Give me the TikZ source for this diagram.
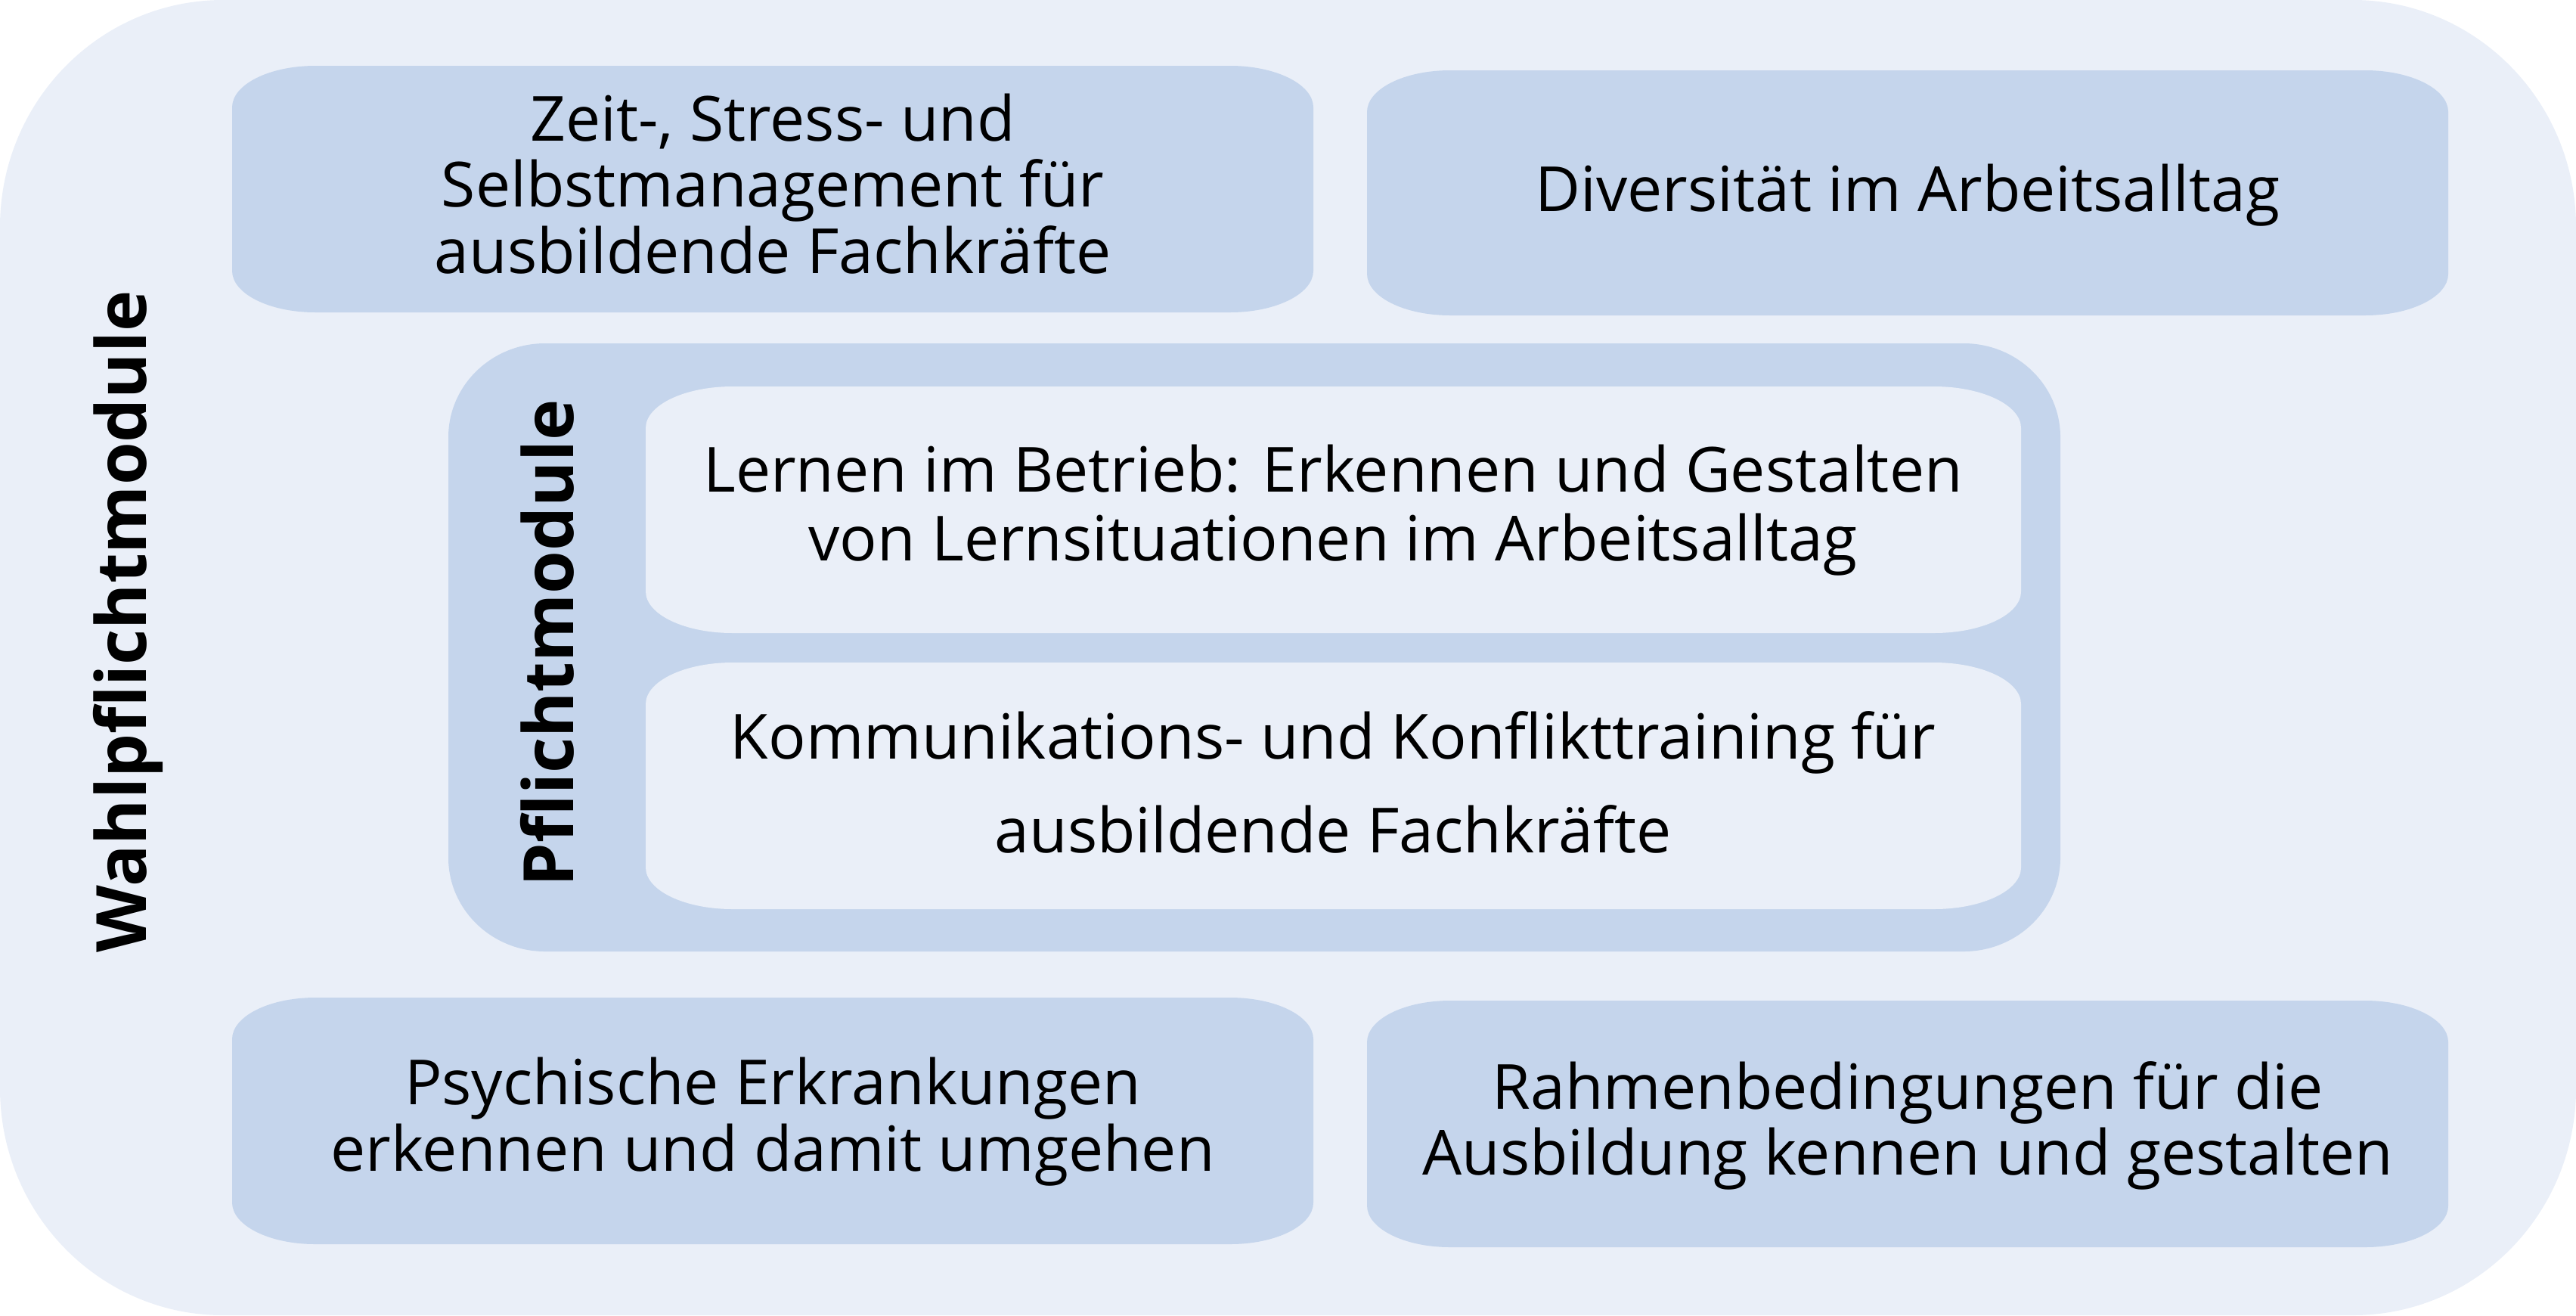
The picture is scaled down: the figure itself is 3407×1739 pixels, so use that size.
\documentclass[tikz,border=0pt]{standalone}
\usepackage{fontspec}
\setmainfont{Open Sans}
\definecolor{outerfill}{HTML}{EAEFF8}
\definecolor{boxfill}{HTML}{C5D5EC}
% elliptical-corner rectangle: x1,y1,x2,y2,rx,ry,style (y grows downwards)
\newcommand\myebox[7]{%
  \fill[#7] (#1+#5,#2) -- (#3-#5,#2)
    .. controls (#3-0.4477*#5,#2) and (#3,#2+0.4477*#6) .. (#3,#2+#6)
    -- (#3,#4-#6)
    .. controls (#3,#4-0.4477*#6) and (#3-0.4477*#5,#4) .. (#3-#5,#4)
    -- (#1+#5,#4)
    .. controls (#1+0.4477*#5,#4) and (#1,#4-0.4477*#6) .. (#1,#4-#6)
    -- (#1,#2+#6)
    .. controls (#1,#2+0.4477*#6) and (#1+0.4477*#5,#2) .. (#1+#5,#2)
    -- cycle;}
\tikzset{
  modtext/.style={align=center, inner sep=0pt, text=black,
    font=\fontsize{23.4}{24.8}\selectfont},
  headtext/.style={inner sep=0pt, rotate=90, text=black,
    font=\fontsize{26.1}{26.1}\selectfont\bfseries},
}
\begin{document}
\begin{tikzpicture}[x=0.01cm, y=-0.01cm]
  \useasboundingbox (0,0) rectangle (3407,1739);
  % outer Wahlpflicht area
  \myebox{0}{0}{3407}{1739}{295}{300}{outerfill}
  % Wahlpflicht boxes
  \myebox{307}{87}{1737}{413}{110}{55}{boxfill}
  \myebox{1808}{93}{3238}{417}{110}{55}{boxfill}
  \myebox{307}{1319}{1737}{1645}{110}{55}{boxfill}
  \myebox{1808}{1323}{3238}{1649}{110}{55}{boxfill}
  % Pflicht container
  \myebox{593}{454}{2725}{1258}{128}{124}{boxfill}
  \myebox{854}{511}{2673}{837}{115}{55}{outerfill}
  \myebox{854}{876}{2673}{1202}{115}{55}{outerfill}

  \node[headtext] (wahl) at (169,822) {Wahlpflichtmodule};
  \node[headtext] (pflicht) at (724,850) {Pflichtmodule};

  \node[modtext] (zeit) at (1022,243) {Zeit-, Stress- und\\Selbstmanagement für\\ausbildende Fachkräfte};
  \node[modtext] (div) at (2523,258) {Diversität im Arbeitsalltag};
  \node[modtext, font=\fontsize{23.4}{25.9}\selectfont] (lernen) at (1763,675) {Lernen im Betrieb: Erkennen und Gestalten\\von Lernsituationen im Arbeitsalltag};
  \node[modtext, font=\fontsize{23.4}{35.3}\selectfont] (komm) at (1763,1034) {Kommunikations- und Konflikttraining für\\ausbildende Fachkräfte};
  \node[modtext] (psych) at (1022,1483) {Psychische Erkrankungen\\erkennen und damit umgehen};
  \node[modtext] (rahmen) at (2523,1488) {Rahmenbedingungen für die\\Ausbildung kennen und gestalten};
\end{tikzpicture}
\end{document}
